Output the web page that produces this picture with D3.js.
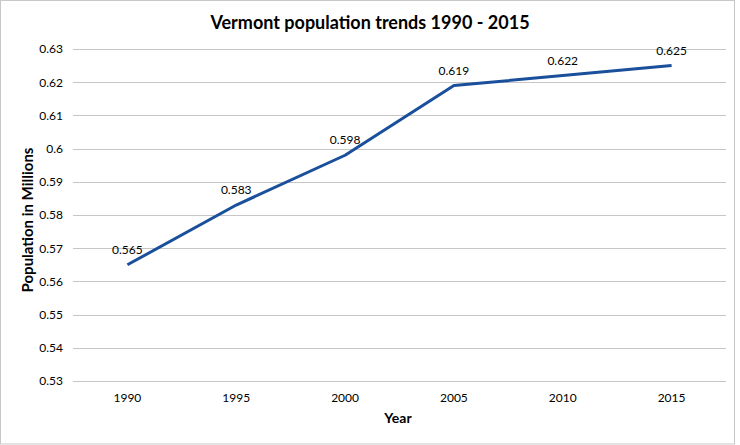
<!DOCTYPE html>
<html>
<head>
<meta charset="utf-8">
<script src="https://cdn.jsdelivr.net/npm/d3@7"></script>
<style>
  body { margin: 0; background: #fff; }
  text { font-family: Lato, "Open Sans", sans-serif; fill: #000; }
</style>
</head>
<body>
<div id="chart"></div>
<script>
// chart data
const years = ["1990", "1995", "2000", "2005", "2010", "2015"];
const population = [0.565, 0.583, 0.598, 0.619, 0.622, 0.625];
const yTicks = [0.53, 0.54, 0.55, 0.56, 0.57, 0.58, 0.59, 0.6, 0.61, 0.62, 0.63];

const width = 740, height = 445;
const margin = { top: 49, right: 14, bottom: 64, left: 73 };

const svg = d3.select("#chart")
  .append("svg")
  .attr("width", width)
  .attr("height", height);

// outer border
svg.append("rect")
  .attr("x", 0.5).attr("y", 0.5)
  .attr("width", width - 6).attr("height", height - 1.5)
  .attr("fill", "#fff")
  .attr("stroke", "#c8c8c8");

const xScale = d3.scaleBand()
  .domain(years)
  .range([margin.left, width - margin.right]);

const yScale = d3.scaleLinear()
  .domain([0.53, 0.63])
  .range([height - margin.bottom, margin.top]);

// gridlines
svg.append("g")
  .selectAll("line")
  .data(yTicks)
  .enter()
  .append("line")
    .attr("x1", margin.left)
    .attr("x2", width - margin.right)
    .attr("y1", d => Math.round(yScale(d)) + 0.5)
    .attr("y2", d => Math.round(yScale(d)) + 0.5)
    .attr("stroke", "#c6c6c6")
    .attr("stroke-width", 1);

// y axis labels
const yAxis = svg.append("g")
  .attr("transform", `translate(${margin.left}, 0)`)
  .call(d3.axisLeft(yScale).tickValues(yTicks).tickSize(0).tickPadding(10)
    .tickFormat(d => String(+d.toFixed(2))));
yAxis.select(".domain").remove();
yAxis.selectAll("text").attr("font-size", "12px").attr("font-family", "Lato, sans-serif");

// x axis labels
const xAxis = svg.append("g")
  .attr("transform", `translate(0, ${height - margin.bottom})`)
  .call(d3.axisBottom(xScale).tickSize(0).tickPadding(12));
xAxis.select(".domain").remove();
xAxis.selectAll("text").attr("font-size", "12px").attr("font-family", "Lato, sans-serif");

// line
const line = d3.line()
  .x((d, i) => xScale(years[i]) + xScale.bandwidth() / 2)
  .y(d => yScale(d));

svg.append("path")
  .datum(population)
  .attr("fill", "none")
  .attr("stroke", "#1a4f9c")
  .attr("stroke-width", 3)
  .attr("stroke-linejoin", "round")
  .attr("d", line);

// data labels
svg.append("g")
  .selectAll("text")
  .data(population)
  .enter()
  .append("text")
    .attr("x", (d, i) => xScale(years[i]) + xScale.bandwidth() / 2)
    .attr("y", d => yScale(d) - 11)
    .attr("text-anchor", "middle")
    .attr("font-size", "12px")
    .text(d => d.toFixed(3));

// title
svg.append("text")
  .attr("x", 370)
  .attr("y", 29)
  .attr("text-anchor", "middle")
  .attr("font-size", "18px")
  .attr("font-weight", "bold")
  .text("Vermont population trends 1990 - 2015");

// axis titles
svg.append("text")
  .attr("x", 398)
  .attr("y", 423)
  .attr("text-anchor", "middle")
  .attr("font-size", "14px")
  .attr("font-weight", "bold")
  .text("Year");

svg.append("text")
  .attr("transform", "translate(33, 220) rotate(-90)")
  .attr("text-anchor", "middle")
  .attr("font-size", "15px")
  .attr("font-weight", "bold")
  .text("Population in Millions");
</script>
</body>
</html>
